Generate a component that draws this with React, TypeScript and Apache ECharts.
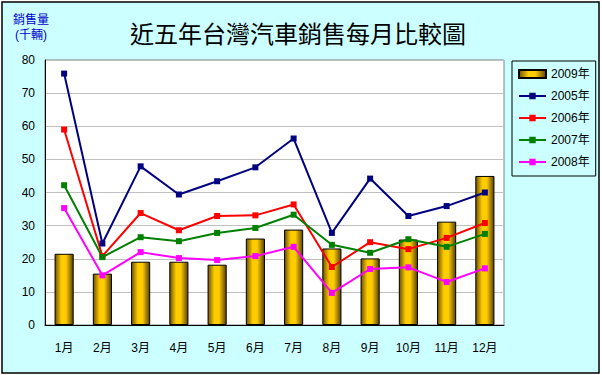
import React, { useEffect, useRef } from "react";
import * as echarts from "echarts";

const months = ["1月", "2月", "3月", "4月", "5月", "6月", "7月", "8月", "9月", "10月", "11月", "12月"];
const sales2009 = [21.5, 15.5, 19.1, 19.1, 18.2, 26.1, 28.8, 23.1, 20.1, 25.8, 31.2, 45.0];
const sales2005 = [75.9, 24.6, 47.9, 39.4, 43.4, 47.6, 56.3, 27.8, 44.2, 32.9, 35.9, 40.0];
const sales2006 = [59.0, 20.8, 33.8, 28.6, 32.9, 33.1, 36.4, 17.5, 25.0, 22.9, 26.3, 30.8];
const sales2007 = [42.2, 20.5, 26.5, 25.3, 27.8, 29.3, 33.3, 24.2, 21.8, 25.9, 23.6, 27.5];
const sales2008 = [35.3, 15.0, 22.0, 20.2, 19.6, 20.8, 23.6, 9.7, 16.9, 17.4, 13.0, 17.1];

const FONT = "'Liberation Sans', 'Noto Sans CJK TC', sans-serif";

export default function App() {
  const ref = useRef<HTMLDivElement>(null);
  useEffect(() => {
    if (!ref.current) return;
    const chart = echarts.init(ref.current, null, { renderer: "svg" });
    const lineSeries = (name: string, data: number[], color: string) => ({
      name,
      type: "line",
      data,
      symbol: "rect",
      symbolSize: 6,
      lineStyle: { color, width: 2 },
      itemStyle: { color },
      z: 3,
    });
    chart.setOption({
      animation: false,
      backgroundColor: "#ffffff",
      textStyle: { fontFamily: FONT },
      graphic: [
        {
          type: "rect",
          z: -10,
          shape: { x: 2, y: 2, width: 597, height: 371 },
          style: { fill: "#CCFFFF", stroke: "#000000", lineWidth: 1.5 },
        },
        {
          type: "text",
          x: 298,
          y: 34,
          style: {
            text: "近五年台灣汽車銷售每月比較圖",
            fontSize: 24,
            fontFamily: FONT,
            fill: "#000000",
            align: "center",
            verticalAlign: "middle",
          },
        },
        {
          type: "text",
          x: 31,
          y: 27,
          style: {
            text: "銷售量\n(千輛)",
            fontSize: 12,
            lineHeight: 15,
            fontFamily: FONT,
            fill: "#0000CC",
            align: "center",
            verticalAlign: "middle",
          },
        },
      ],
      grid: {
        left: 45,
        right: 98,
        top: 60,
        bottom: 50,
        show: true,
        backgroundColor: "#ffffff",
        borderColor: "#808080",
        borderWidth: 1,
      },
      legend: {
        orient: "vertical",
        left: 512,
        top: 61,
        width: 77,
        padding: [6, 6, 7, 6],
        itemGap: 8,
        itemWidth: 27,
        itemHeight: 8,
        borderColor: "#000000",
        borderWidth: 1,
        textStyle: { fontSize: 12, color: "#000000", fontFamily: FONT, lineHeight: 14 },
        data: [
          { name: "2009年", icon: "rect" },
          "2005年",
          "2006年",
          "2007年",
          "2008年",
        ],
      },
      xAxis: {
        type: "category",
        data: months,
        axisLine: { lineStyle: { color: "#000000", width: 1 } },
        axisTick: { show: false },
        axisLabel: { color: "#000000", fontSize: 12, margin: 17, fontFamily: FONT },
        splitLine: { show: false },
      },
      yAxis: {
        type: "value",
        min: 0,
        max: 80,
        interval: 10,
        axisLine: { show: true, lineStyle: { color: "#000000", width: 1 } },
        axisTick: { show: false },
        axisLabel: { color: "#000000", fontSize: 12, margin: 10, fontFamily: FONT },
        splitLine: { lineStyle: { color: "#C0C0C0", width: 1 } },
      },
      series: [
        {
          name: "2009年",
          type: "bar",
          data: sales2009,
          barWidth: "50%",
          itemStyle: {
            borderColor: "#000000",
            borderWidth: 1,
            color: new echarts.graphic.LinearGradient(0, 0, 1, 0, [
              { offset: 0, color: "#6e5300" },
              { offset: 0.35, color: "#ffcc00" },
              { offset: 0.6, color: "#ffcc00" },
              { offset: 1, color: "#5a4300" },
            ]),
          },
          z: 2,
        },
        lineSeries("2005年", sales2005, "#000080"),
        lineSeries("2006年", sales2006, "#FF0000"),
        lineSeries("2007年", sales2007, "#008000"),
        lineSeries("2008年", sales2008, "#FF00FF"),
      ],
    });
    return () => chart.dispose();
  }, []);
  return (
    <div
      ref={ref}
      style={{ position: "fixed", left: 0, top: 0, width: 602, height: 375 }}
    />
  );
}
